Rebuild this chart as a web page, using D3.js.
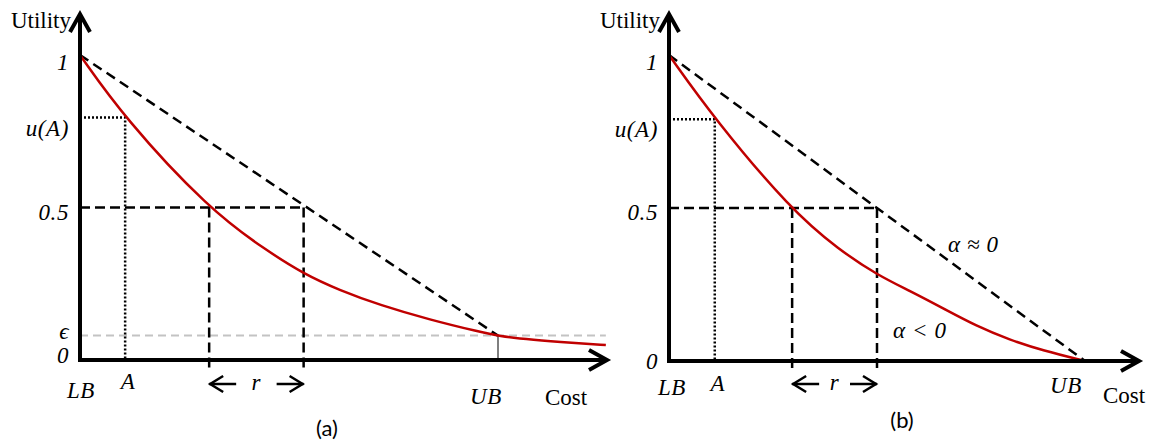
<!DOCTYPE html>
<html><head><meta charset="utf-8">
<script src="https://cdn.jsdelivr.net/npm/d3@7"></script>
<style>
  body { margin: 0; background: #fff; }
  svg { display: block; }
</style>
</head><body>
<script>
// ---- data -------------------------------------------------------------
// Cost is normalised so that LB = 0 and UB = 1; utility runs from 0 to 1.

// (a) utility decays towards ε at UB and keeps decaying beyond it
const costA = [0, 0.106, 0.309, 0.444, 0.533, 0.622, 0.718, 0.837, 0.957, 1.0, 1.083, 1.179, 1.258];
const utilA = [1, 0.794, 0.494, 0.361, 0.284, 0.228, 0.180, 0.132, 0.092, 0.079, 0.066, 0.056, 0.049];

// (b) utility reaches exactly 0 at UB
const costB = [0, 0.110, 0.294, 0.409, 0.501, 0.579, 0.659, 0.739, 0.819, 0.899, 1.0];
const utilB = [1, 0.790, 0.493, 0.363, 0.281, 0.229, 0.172, 0.114, 0.069, 0.034, 0];

// marked costs: A, start of r, end of r
const markCostA = [0.108, 0.309, 0.535];
const markCostB = [0.110, 0.296, 0.500];

// utility levels: u(A), the half-utility line, ε
const uOfA = [0.795, 0.79];
const halfUtility = 0.5;
const epsilon = 0.08;

// tick labels
const yLabelsA = ["1", "u(A)", "0.5", "\u03F5", "0"];
const yLabelsB = ["1", "u(A)", "0.5", "0"];
const xLabels = ["LB", "A", "UB"];
const axisTitles = ["Utility", "Cost"];
const panelTitles = ["(a)", "(b)"];
const curveNotes = ["\u03B1 \u2248 0", "\u03B1 < 0"];

// ---- drawing ----------------------------------------------------------
const W = 1161, H = 446;
const svg = d3.select("body").append("svg").attr("width", W).attr("height", H);

const RED = "#c00000";

// text styles, applied inline
const mathText = (sel) => sel.style("font-family", "Liberation Serif").style("font-style", "italic")
  .style("font-size", "23px").style("letter-spacing", "0.6px");
const wordText = (sel) => sel.style("font-family", "Liberation Serif").style("font-size", "23px");
const captionText = (sel) => sel.style("font-family", "Lato").style("font-size", "22px");

function arrowHead(g, tipX, tipY, dir, len, half, width) {
  // open chevron pointing in dir ("up", "right", "left")
  let pts;
  if (dir === "up") pts = [[tipX - half, tipY + len], [tipX, tipY], [tipX + half, tipY + len]];
  else if (dir === "right") pts = [[tipX - len, tipY - half], [tipX, tipY], [tipX - len, tipY + half]];
  else pts = [[tipX + len, tipY - half], [tipX, tipY], [tipX + len, tipY + half]];
  g.append("path").attr("d", d3.line()(pts))
    .attr("fill", "none").attr("stroke", "#000").attr("stroke-width", width)
    .attr("stroke-linejoin", "miter").attr("stroke-linecap", "butt");
}

function drawPanel(cfg) {
  const g = svg.append("g");
  const x = d3.scaleLinear().domain([0, 1]).range(cfg.xRange);
  const y = d3.scaleLinear().domain([0, 1]).range(cfg.yRange);
  const [mA, rLo, rHi] = cfg.marks;

  const dashed = (sel) => sel.attr("stroke", "#000").attr("stroke-width", 2.5)
    .attr("stroke-dasharray", "10,5").attr("fill", "none");
  const dotted = (sel) => sel.attr("stroke", "#000").attr("stroke-width", 2.5)
    .attr("stroke-dasharray", "2,2").attr("fill", "none");

  // ε guide (panel a only)
  if (cfg.eps !== null) {
    g.append("line")
      .attr("x1", x(0)).attr("x2", x(cfg.costs[cfg.costs.length - 1]))
      .attr("y1", y(cfg.eps)).attr("y2", y(cfg.eps))
      .attr("stroke", "#c3c3c3").attr("stroke-width", 2).attr("stroke-dasharray", "8,5");
    g.append("line")
      .attr("x1", x(1)).attr("x2", x(1))
      .attr("y1", y(cfg.eps)).attr("y2", y(0))
      .attr("stroke", "#555").attr("stroke-width", 1.5);
  }

  // u(A) dotted guides
  g.append("path").call(dotted)
    .attr("d", d3.line()([[x(0), y(cfg.uA)], [x(mA), y(cfg.uA)], [x(mA), y(0)]]));

  // half-utility dashed guides and the r interval
  g.append("line").call(dashed)
    .attr("x1", x(0)).attr("x2", x(rHi)).attr("y1", y(halfUtility)).attr("y2", y(halfUtility));
  [rLo, rHi].forEach(c => {
    g.append("line").call(dashed)
      .attr("x1", x(c)).attr("x2", x(c)).attr("y1", y(halfUtility)).attr("y2", y(0) + 9);
  });

  // linear (α ≈ 0) reference
  g.append("line").call(dashed).attr("stroke-dasharray", "10,6")
    .attr("x1", x(0)).attr("y1", y(1)).attr("x2", x(1)).attr("y2", y(cfg.endUtility));

  // utility curve
  g.append("path")
    .datum(cfg.costs.map((c, i) => [c, cfg.utils[i]]))
    .attr("fill", "none").attr("stroke", RED).attr("stroke-width", 2.5)
    .attr("d", d3.line().x(d => x(d[0])).y(d => y(d[1])).curve(d3.curveBasis));

  // axes with arrow heads
  const yTip = cfg.yTip, xTip = cfg.xTip;
  g.append("line").attr("x1", x(0)).attr("x2", x(0)).attr("y1", y(0) + 2).attr("y2", yTip + 2)
    .attr("stroke", "#000").attr("stroke-width", 4);
  g.append("line").attr("x1", x(0) - 2).attr("x2", xTip - 2).attr("y1", y(0)).attr("y2", y(0))
    .attr("stroke", "#000").attr("stroke-width", 4);
  arrowHead(g, x(0), yTip, "up", 18, 10, 4);
  arrowHead(g, xTip, y(0), "right", 18, 10, 4);

  // r arrows
  const ry = y(0) + cfg.rArrowDy;
  g.append("line").attr("x1", x(rLo)).attr("x2", x(rLo) + 27).attr("y1", ry).attr("y2", ry)
    .attr("stroke", "#000").attr("stroke-width", 2.5);
  arrowHead(g, x(rLo) + 1, ry, "left", 13, 8, 2.5);
  g.append("line").attr("x1", x(rHi) - 27).attr("x2", x(rHi)).attr("y1", ry).attr("y2", ry)
    .attr("stroke", "#000").attr("stroke-width", 2.5);
  arrowHead(g, x(rHi) - 1, ry, "right", 13, 8, 2.5);
  g.append("text").call(mathText).text("r")
    .attr("x", (x(rLo) + x(rHi)) / 2).attr("y", ry + 6).attr("text-anchor", "middle");

  // y tick labels
  cfg.yLabels.forEach((t, i) => {
    g.append("text").call(mathText).text(t)
      .attr("x", x(0) - 11).attr("y", y(cfg.yValues[i]) + cfg.yLabelDy[i])
      .attr("text-anchor", "end");
  });

  // x tick labels
  const xVals = [0, mA, 1];
  xLabels.forEach((t, i) => {
    g.append("text").call(mathText).text(t)
      .attr("x", x(xVals[i]) + cfg.xLabelDx[i]).attr("y", y(0) + cfg.xLabelDy[i])
      .attr("text-anchor", "middle");
  });

  // axis titles
  g.append("text").call(wordText).text(axisTitles[0])
    .attr("x", x(0) - 9).attr("y", cfg.utilityY).attr("text-anchor", "end");
  g.append("text").call(wordText).text(axisTitles[1])
    .attr("x", cfg.costX).attr("y", y(0) + cfg.costDy);

  // panel caption
  g.append("text").call(captionText).text(cfg.title)
    .attr("x", cfg.titleX).attr("y", cfg.titleY).attr("text-anchor", "middle");

  return { g, x, y };
}

drawPanel({
  xRange: [80, 498], yRange: [360, 55],
  costs: costA, utils: utilA, marks: markCostA, uA: uOfA[0],
  eps: epsilon, endUtility: epsilon,
  yTip: 14, xTip: 607, rArrowDy: 24,
  yLabels: yLabelsA, yValues: [1, uOfA[0], halfUtility, epsilon, 0],
  yLabelDy: [15, 18, 12, 3, 3],
  xLabelDx: [1, 3, -12], xLabelDy: [38, 29, 44],
  utilityY: 28, costX: 545, costDy: 45,
  title: panelTitles[0], titleX: 327, titleY: 436
});

const pb = drawPanel({
  xRange: [669, 1085], yRange: [361, 55],
  costs: costB, utils: utilB, marks: markCostB, uA: uOfA[1],
  eps: null, endUtility: 0,
  yTip: 14, xTip: 1139, rArrowDy: 23,
  yLabels: yLabelsB, yValues: [1, uOfA[1], halfUtility, 0],
  yLabelDy: [15, 18, 12, 8],
  xLabelDx: [3, 3, -19], xLabelDy: [34, 30, 32],
  utilityY: 28, costX: 1103, costDy: 42,
  title: panelTitles[1], titleX: 902, titleY: 428
});

// curve notes in panel (b)
pb.g.append("text").call(mathText).text(curveNotes[0]).attr("x", 948).attr("y", 252);
pb.g.append("text").call(mathText).text(curveNotes[1]).attr("x", 893).attr("y", 338);
</script>
</body></html>
